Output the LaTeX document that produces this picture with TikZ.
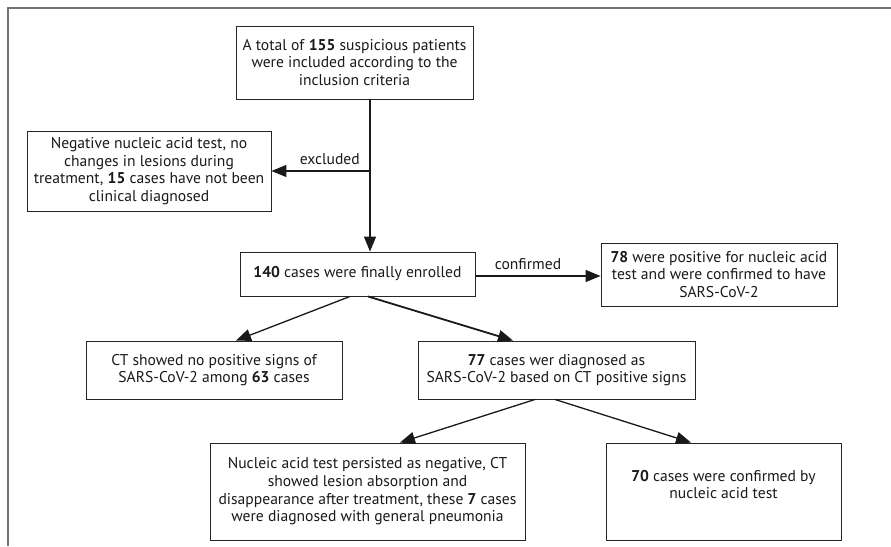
\documentclass[tikz,border=0pt]{standalone}
\usepackage{fontspec}
\setmainfont{PT Sans}
\usepackage{tikz}
\usetikzlibrary{arrows.meta,positioning,calc}
\tikzset{box/.style={draw=black!85, line width=0.9pt, align=center, inner sep=3pt, text=black!90, font=\fontsize{15.6}{17.7}\selectfont}}
\tikzset{arr/.style={draw=black!90, line width=1.3pt, -{Triangle[length=15pt,width=12pt]}}}
\tikzset{lbl/.style={text=black!90, font=\fontsize{15.6}{17}\selectfont}}

\begin{document}
\begin{tikzpicture}[x=1pt, y=-1pt]
    \useasboundingbox (0,0) rectangle (891,546);
    \draw[black!55, line width=1.2pt] (891,8) -- (8,8) -- (8,546);

    \node[box, minimum width=237, minimum height=73] (top) at (354.5, 62.5)
        {A total of \textbf{155} suspicious patients\\were included according to the\\inclusion criteria};
    \node[box, minimum width=244, minimum height=80] (excl) at (149, 171)
        {Negative nucleic acid test, no\\changes in lesions during\\treatment, \textbf{15} cases have not been\\clinical diagnosed};
    \node[box, minimum width=235, minimum height=44] (enrol) at (357.5, 274)
        {\textbf{140} cases were finally enrolled};
    \node[box, minimum width=236, minimum height=63] (pos) at (719, 274.5)
        {\textbf{78} were positive for nucleic acid\\test and were confirmed to have\\SARS-CoV-2};
    \node[box, minimum width=256, minimum height=58] (ctno) at (214, 370)
        {CT showed no positive signs of\\SARS-CoV-2 among \textbf{63} cases};
    \node[box, minimum width=277, minimum height=58] (ct77) at (556.5, 370)
        {\textbf{77} cases wer diagnosed as\\SARS-CoV-2 based on CT positive signs};
    \node[box, minimum width=315, minimum height=97] (pneu) at (367.5, 491.5)
        {Nucleic acid test persisted as negative, CT\\showed lesion absorption and\\disappearance after treatment, these \textbf{7} cases\\were diagnosed with general pneumonia};
    \node[box, minimum width=235, minimum height=97, text depth=14pt] (conf70) at (723.5, 491.5)
        {\textbf{70} cases were confirmed by\\nucleic acid test};

    \coordinate (split) at ([xshift=15.5]top.south |- excl.east);
    \coordinate (conf) at ([yshift=-2]enrol.east);

    \draw[arr] ([xshift=15.5]top.south) -- ([xshift=12.5]enrol.north);
    \draw[arr] (split) -- node[lbl, above=2pt, xshift=9pt] {excluded} (excl.east);
    \draw[arr] (conf) -- node[lbl, above=2pt, xshift=-10pt] {confirmed} (conf -| pos.west);
    \draw[arr] ([xshift=-7.5]enrol.south) -- ([xshift=22]ctno.north);
    \draw[arr, line width=1.8pt] ([xshift=10.5]enrol.south) -- ([xshift=-43.5]ct77.north);
    \draw[arr] ([xshift=-21.5]ct77.south) -- ([xshift=32.5]pneu.north);
    \draw[arr] ([xshift=-1.5]ct77.south) -- ([xshift=-32.5]conf70.north);
\end{tikzpicture}
\end{document}
